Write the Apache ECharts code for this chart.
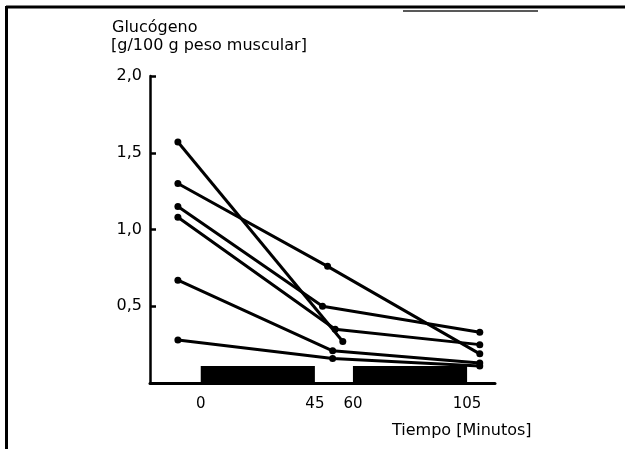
<!DOCTYPE html>
<html>
<head>
<meta charset="utf-8">
<script src="https://cdn.jsdelivr.net/npm/echarts@6/dist/echarts.min.js"></script>
<style>
  html, body { margin: 0; padding: 0; background: #fff; }
  #chart { width: 625px; height: 449px; }
</style>
</head>
<body>
<div id="chart"></div>
<script>
// ---- data (time in minutes, glycogen in g/100 g muscle) ----
const xTickLabels = [0, 45, 60, 105];
const yTickValues = [0.5, 1.0, 1.5, 2.0];
const subject1 = [[-9, 1.57], [56, 0.27]];
const subject2 = [[-9, 1.30], [50, 0.76], [110, 0.19]];
const subject3 = [[-9, 1.15], [48, 0.50], [110, 0.33]];
const subject4 = [[-9, 1.08], [53, 0.35], [110, 0.25]];
const subject5 = [[-9, 0.67], [52, 0.21], [110, 0.13]];
const subject6 = [[-9, 0.28], [52, 0.16], [110, 0.11]];
const exerciseStart = [0, 60];
const exerciseEnd = [45, 105];
const exerciseHeight = [0.11, 0.11];

const subjects = [subject1, subject2, subject3, subject4, subject5, subject6];
const exerciseData = exerciseStart.map((s, i) => [s, exerciseEnd[i], exerciseHeight[i]]);

const FONT = 'DejaVu Sans';
const chart = echarts.init(document.getElementById('chart'), null, { renderer: 'canvas' });

const lineSeries = subjects.map(d => ({
  type: 'line',
  data: d,
  lineStyle: { color: '#000', width: 3 },
  itemStyle: { color: '#000' },
  symbol: 'circle',
  symbolSize: 7,
  z: 3
}));

chart.setOption({
  animation: false,
  backgroundColor: '#fff',
  grid: { left: 150, right: 130, top: 76, bottom: 66, containLabel: false },
  xAxis: {
    type: 'value',
    min: -20,
    max: 116,
    axisLine: { show: true, onZero: false, lineStyle: { color: '#000', width: 3 } },
    axisTick: { show: false },
    splitLine: { show: false },
    axisLabel: {
      customValues: xTickLabels,
      color: '#000', fontFamily: FONT, fontSize: 15, margin: 14
    }
  },
  yAxis: {
    type: 'value',
    min: 0,
    max: 2,
    interval: 0.5,
    axisLine: { show: true, onZero: false, lineStyle: { color: '#000', width: 2.5 } },
    axisTick: { show: true, inside: true, length: 6, lineStyle: { color: '#000', width: 2.5 } },
    splitLine: { show: false },
    axisLabel: {
      color: '#000', fontFamily: FONT, fontSize: 16, margin: 8,
      formatter: v => (yTickValues.indexOf(v) >= 0 ? v.toFixed(1).replace('.', ',') : '')
    }
  },
  graphic: [
    { type: 'line', shape: { x1: 6, y1: 7, x2: 625, y2: 7 }, style: { stroke: '#000', lineWidth: 3 } },
    { type: 'line', shape: { x1: 6.5, y1: 6, x2: 6.5, y2: 449 }, style: { stroke: '#000', lineWidth: 3 } },
    { type: 'line', shape: { x1: 403, y1: 11, x2: 538, y2: 11 }, style: { stroke: '#222', lineWidth: 1.5 } },
    { type: 'text', left: 112, top: 20, style: { text: 'Glucógeno', font: '16px "DejaVu Sans"', fill: '#000' } },
    { type: 'text', left: 111, top: 38, style: { text: '[g/100 g peso muscular]', font: '16px "DejaVu Sans"', fill: '#000' } },
    { type: 'text', left: 392, top: 423, style: { text: 'Tiempo [Minutos]', font: '16px "DejaVu Sans"', fill: '#000' } }
  ],
  series: [
    {
      type: 'custom',
      data: exerciseData,
      renderItem: function (params, api) {
        const p0 = api.coord([api.value(0), api.value(2)]);
        const p1 = api.coord([api.value(1), 0]);
        return {
          type: 'rect',
          shape: { x: p0[0], y: p0[1], width: p1[0] - p0[0], height: p1[1] - p0[1] },
          style: { fill: '#000' }
        };
      },
      z: 2
    }
  ].concat(lineSeries)
});
</script>
</body>
</html>
